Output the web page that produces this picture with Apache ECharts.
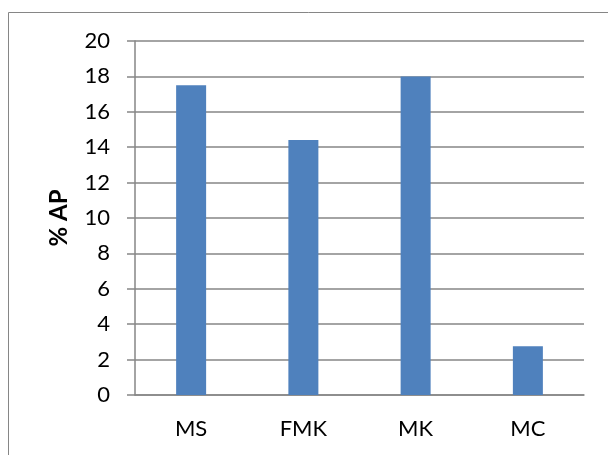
<!DOCTYPE html>
<html>
<head>
<meta charset="utf-8">
<script src="https://cdn.jsdelivr.net/npm/echarts@6/dist/echarts.min.js"></script>
<style>
  html, body { margin: 0; padding: 0; background: #ffffff; }
  #chart { width: 608px; height: 455px; }
</style>
</head>
<body>
<div id="chart"></div>
<script>
// Sample groups and their % AP values
const categories = ['MS', 'FMK', 'MK', 'MC'];
const apValues = [17.5, 14.4, 18.0, 2.75];
const yTicks = { min: 0, max: 20, step: 2 };
const yTitle = '% AP';

const gray = '#868686';
const font = 'Lato, "Open Sans", sans-serif';

const chart = echarts.init(document.getElementById('chart'), null, { renderer: 'canvas' });

chart.setOption({
  animation: false,
  backgroundColor: '#ffffff',
  graphic: [{
    type: 'rect',
    shape: { x: 8.5, y: 12.5, width: 700, height: 600 },
    style: { fill: 'none', stroke: gray, lineWidth: 1 },
    silent: true
  }],
  grid: { left: 135, right: 24, top: 41, bottom: 60, containLabel: false },
  xAxis: {
    type: 'category',
    data: categories,
    axisLine: { show: true, lineStyle: { color: gray, width: 1.5 } },
    axisTick: { show: false },
    axisLabel: { color: '#000', fontSize: 22, fontFamily: font, margin: 23 },
    splitLine: { show: false }
  },
  yAxis: {
    type: 'value',
    min: yTicks.min,
    max: yTicks.max,
    interval: yTicks.step,
    name: yTitle,
    nameLocation: 'middle',
    nameRotate: 90,
    nameGap: 64,
    nameTextStyle: { color: '#000', fontSize: 24, fontWeight: 'bold', fontFamily: font },
    axisLine: { show: true, lineStyle: { color: gray, width: 1.5 } },
    axisTick: { show: true, inside: false, length: 8, lineStyle: { color: gray, width: 1.5 } },
    axisLabel: { color: '#000', fontSize: 22, fontFamily: font, margin: 25 },
    splitLine: { show: true, lineStyle: { color: gray, width: 1.5 } }
  },
  series: [{
    type: 'bar',
    data: apValues,
    barWidth: 30,
    itemStyle: { color: '#4f81bd' }
  }]
});
</script>
</body>
</html>
